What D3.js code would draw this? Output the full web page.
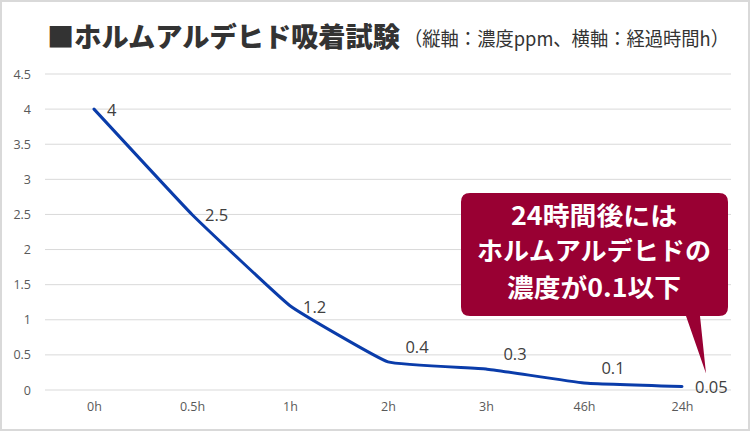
<!DOCTYPE html>
<html><head><meta charset="utf-8">
<script src="https://cdn.jsdelivr.net/npm/d3@7"></script>
<style>
html,body{margin:0;padding:0;background:#fff;}
svg{display:block;}
</style>
</head><body>
<svg id="chart" width="750" height="431"></svg>
<script>
const categories = ["0h","0.5h","1h","2h","3h","46h","24h"];
const values = [4, 2.5, 1.2, 0.4, 0.3, 0.1, 0.05];
const yTicks = [0, 0.5, 1, 1.5, 2, 2.5, 3, 3.5, 4, 4.5];
const labelPlacement = ["right","right","right","above","above","above","right"];
const titleMain = "■ホルムアルデヒド吸着試験";
const titleSub = "（縦軸：濃度ppm、横軸：経過時間h）";
const calloutLines = ["24時間後には", "ホルムアルデヒドの", "濃度が0.1以下"];

const svg = d3.select("#chart");
const W = 750, H = 431;
const jp = "'Noto Sans CJK JP', 'Noto Sans', sans-serif";
const latin = "'Open Sans', 'Noto Sans', sans-serif";

// outer border
svg.append("rect").attr("x",1).attr("y",1).attr("width",W-2).attr("height",H-2)
  .attr("fill","#fff").attr("stroke","#d9d9d9").attr("stroke-width",2);

const x = d3.scalePoint().domain(categories).range([45, 731]).padding(0.5);
const y = d3.scaleLinear().domain([0, 4.5]).range([390, 74]);

// gridlines
svg.append("g").selectAll("line").data(yTicks).join("line")
  .attr("x1",45).attr("x2",731)
  .attr("y1",d=>y(d)).attr("y2",d=>y(d))
  .attr("stroke","#d9d9d9").attr("stroke-width",1);

// y axis
const yAxis = svg.append("g").attr("transform","translate(31,0)")
  .call(d3.axisLeft(y).tickValues(yTicks).tickFormat(d=>String(d)).tickSize(0).tickPadding(0));
yAxis.select(".domain").remove();
yAxis.selectAll("text").attr("font-family",latin).attr("font-size",12.5).attr("fill","#595959");

// x axis
const xAxis = svg.append("g").attr("transform","translate(0,402)")
  .call(d3.axisBottom(x).tickSize(0).tickPadding(0));
xAxis.select(".domain").remove();
xAxis.selectAll("text").attr("font-family",latin).attr("font-size",12.5).attr("fill","#595959").attr("dy","0.71em");

// line
const data = categories.map((c,i)=>({c, v:values[i], p:labelPlacement[i]}));
const line = d3.line().x(d=>x(d.c)).y(d=>y(d.v)).curve(d3.curveCardinal.tension(0.7));
svg.append("path").datum(data).attr("d",line)
  .attr("fill","none").attr("stroke","#0a3caa").attr("stroke-width",3)
  .attr("stroke-linejoin","round").attr("stroke-linecap","round");

// data labels
svg.append("g").selectAll("text").data(data).join("text")
  .attr("x",d=> d.p==="above" ? x(d.c)+29 : x(d.c)+13)
  .attr("y",d=> d.p==="above" ? y(d.v)-15 : y(d.v)+1)
  .attr("dy","0.35em")
  .attr("text-anchor",d=> d.p==="above" ? "middle" : "start")
  .attr("font-family",latin).attr("font-size",16.5).attr("fill","#404040")
  .text(d=>String(d.v));

// title
svg.append("text").attr("x",47).attr("y",47)
  .attr("font-family",jp).attr("font-weight",900).attr("font-size",27).attr("fill","#333")
  .attr("textLength",353).attr("lengthAdjust","spacingAndGlyphs")
  .text(titleMain);
svg.append("text").attr("x",404).attr("y",46)
  .attr("font-family",jp).attr("font-weight",400).attr("font-size",19.5).attr("fill","#333")
  .attr("textLength",325).attr("lengthAdjust","spacingAndGlyphs")
  .text(titleSub);

// callout
const last = data[data.length-1];
const tipX = x(last.c)+24, tipY = y(last.v)-13;
const bx0=461, bx1=728, by0=193, by1=316, r=9;
const calloutPath = `M${bx0+r},${by0} H${bx1-r} Q${bx1},${by0} ${bx1},${by0+r} V${by1-r} Q${bx1},${by1} ${bx1-r},${by1}
  H700 L${tipX},${tipY} L686,${by1} H${bx0+r} Q${bx0},${by1} ${bx0},${by1-r} V${by0+r} Q${bx0},${by0} ${bx0+r},${by0} Z`;
svg.append("path").attr("d",calloutPath).attr("fill","#990033");
const lens = [166, 234, 174];
const ys = [216, 251, 288];
svg.append("g").selectAll("text").data(calloutLines).join("text")
  .attr("x",594).attr("y",(d,i)=>ys[i]).attr("dy","0.36em")
  .attr("text-anchor","middle")
  .attr("font-family",jp).attr("font-weight",700).attr("font-size",25).attr("fill","#fff")
  .attr("textLength",(d,i)=>lens[i]).attr("lengthAdjust","spacingAndGlyphs")
  .text(d=>d);
</script>
</body></html>
